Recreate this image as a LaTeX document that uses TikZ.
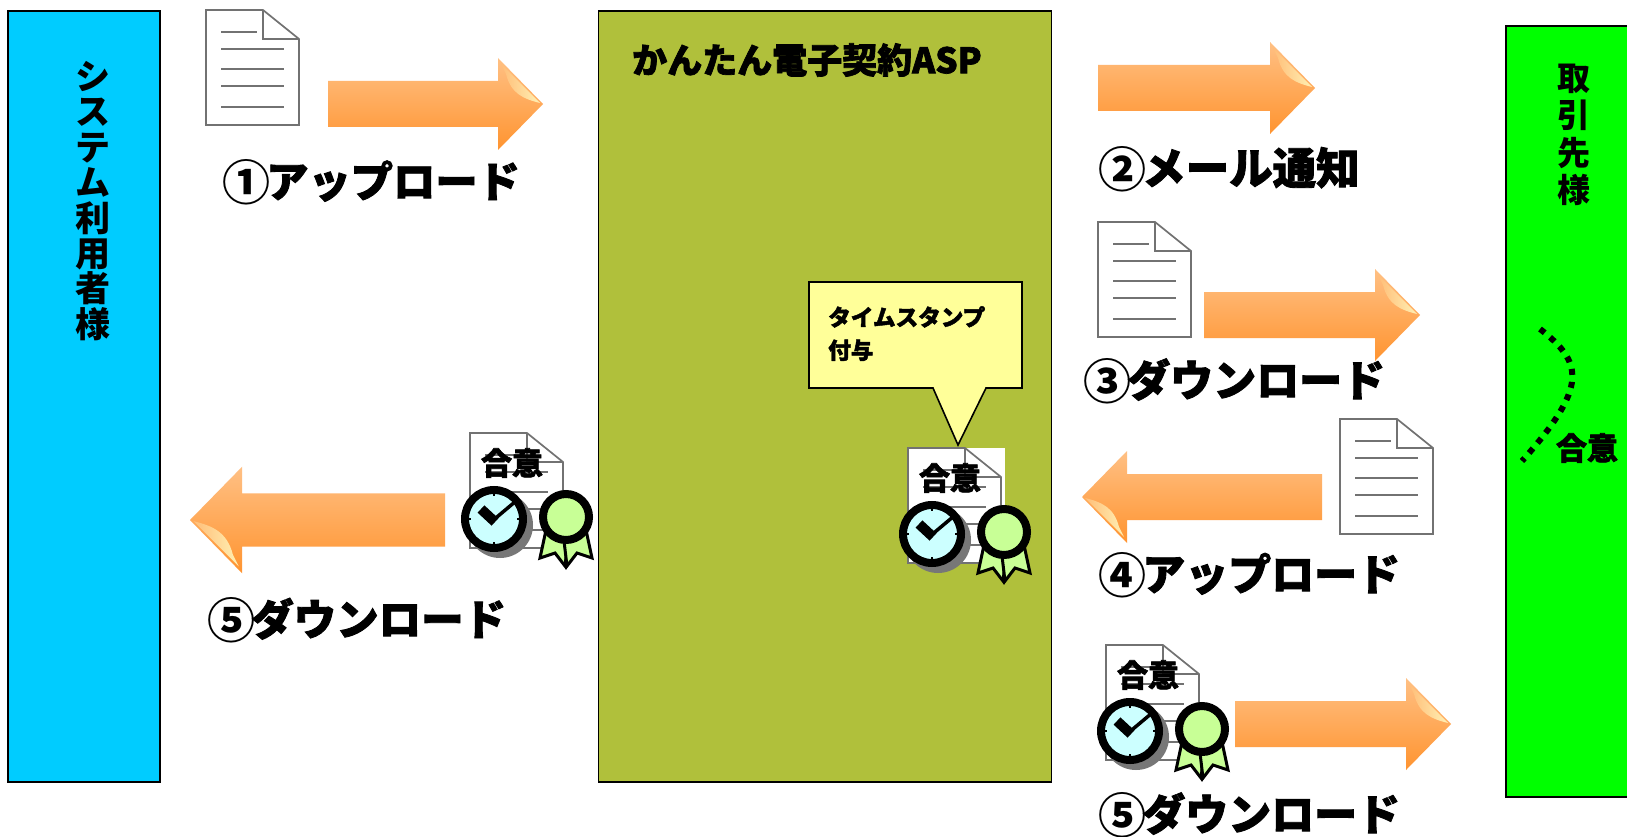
\documentclass[tikz,border=0pt]{standalone}
\usepackage{fontspec}
\newfontfamily\cjk{Noto Sans CJK JP}[BoldFeatures={FakeBold=2}]
\newfontfamily\cjkplain{Noto Sans CJK JP}
\usetikzlibrary{calc}
\definecolor{sysblue}{HTML}{00CCFF}
\definecolor{aspolive}{HTML}{B0C03B}
\definecolor{partnergreen}{HTML}{00FF00}
\definecolor{calloutyellow}{HTML}{FFFF99}
\definecolor{docgray}{HTML}{727272}
\definecolor{clockface}{HTML}{CCFFFF}
\definecolor{ribbongreen}{HTML}{C8FF96}
\definecolor{shadowgray}{HTML}{777777}
\definecolor{arrowtop}{HTML}{FFC084}
\definecolor{arrowbottom}{HTML}{FF9430}
\definecolor{foldlow}{HTML}{FFBE78}
\definecolor{foldhigh}{HTML}{FFF0B4}
\newcommand{\blockarrow}[5]{% tail x, centre y, length, scale, direction
  \begin{scope}[shift={(#1,#2)},xscale=#5]
    \shade[top color=arrowtop,bottom color=arrowbottom]
      (0,-23*#4) -- ({#3-45*#4},-23*#4) -- ({#3-45*#4},-46*#4) -- (#3,0)
      -- ({#3-45*#4},46*#4) -- ({#3-45*#4},23*#4) -- (0,23*#4) -- cycle;
    \begin{scope}[shift={({#3-45*#4},0)},xscale=#4,yscale=#5*#4]
      \shade[left color=foldlow,right color=foldhigh]
        (3,-40) -- (42,-1) .. controls (26,-5) and (13,-10) .. (8,-30) -- cycle;
    \end{scope}
  \end{scope}}
\newcommand{\numlabel}[3]{{\fontsize{#2}{44}\selectfont\raisebox{-3pt}{\cjkplain\bfseries\fontsize{48}{48}\selectfont #1}\kern-4pt #3}}
\tikzset{
  x=1pt,y=-1pt,
  panel/.style={draw=black,line width=1.6pt,rectangle,inner sep=0pt,anchor=north west},
  biglabel/.style={font=\cjk\bfseries,inner sep=0pt,text=black,anchor=west},
  agreelabel/.style={font=\cjk\bfseries\fontsize{31}{33}\selectfont,inner sep=0pt,text=black},
  vertlabel/.style={font=\cjkplain\bfseries,inner sep=0pt,align=center,text=black},
  docline/.style={draw=docgray,line width=1.7pt},
  docicon/.pic={
    \fill[white] (0,0) -- (57,0) -- (93,29) -- (93,115) -- (0,115) -- cycle;
    \draw[docline] (0,0) -- (57,0) -- (93,29) -- (93,115) -- (0,115) -- cycle;
    \draw[docline] (57,0) -- (57,29) -- (93,29);
    \draw[docline] (15,22) -- (51,22);
    \draw[docline] (15,39) -- (78,39);
    \draw[docline] (15,59) -- (78,59);
    \draw[docline] (15,76) -- (78,76);
    \draw[docline] (15,97) -- (78,97);
  },
  sealicons/.pic={
    % clock
    \fill[shadowgray] (30,92) circle[radius=33];
    \fill[clockface,draw=black,line width=8pt] (24,86) circle[radius=29];
    \draw[black,line width=1.5pt] (24,61) -- (24,63) (24,109) -- (24,111) (-1,86) -- (1,86) (47,86) -- (49,86);
    \draw[black,line width=10pt] (11,76) -- (25,89);
    \draw[black,line width=3.5pt,line cap=round] (21,89) -- (46,68);
    % rosette
    \draw[fill=ribbongreen,draw=black,line width=3pt,line join=miter] (76,97) -- (70,125) -- (85,120) -- (95,133) -- (98,108) -- cycle;
    \draw[fill=ribbongreen,draw=black,line width=3pt,line join=miter] (116,97) -- (122,125) -- (107,120) -- (97,133) -- (94,108) -- cycle;
    \fill[ribbongreen,draw=black,line width=8pt] (96,84) circle[radius=23];
  }
}
\begin{document}
\begin{tikzpicture}
\useasboundingbox (0,0) rectangle (1627,837);
\fill[white] (0,0) rectangle (1627,837);

% panels
\node[panel,fill=sysblue,minimum width=152pt,minimum height=771pt] (sys) at (7,10) {};
\node[panel,fill=aspolive,minimum width=453pt,minimum height=771pt] (asp) at (597.5,10) {};
\node[panel,fill=partnergreen,minimum width=140pt,minimum height=771pt] (partner) at (1505,25) {};

\node[vertlabel,font=\cjkplain\bfseries\fontsize{35}{35.4}\selectfont] (systext) at (93,201) {シ\\ス\\テ\\ム\\利\\用\\者\\様};
\node[vertlabel,font=\cjkplain\bfseries\fontsize{33}{37.5}\selectfont] (partnertext) at (1574,135) {取\\引\\先\\様};
\node[font=\cjk\bfseries\fontsize{35}{37}\selectfont,inner sep=0pt,anchor=west] (asptitle) at (632,60) {かんたん電子契約ASP};

% arrows
\blockarrow{328}{104}{215}{1}{1}
\blockarrow{1098}{88}{217}{1}{1}
\blockarrow{1204}{315}{216}{1}{1}
\blockarrow{1322}{497}{240}{1}{-1}
\blockarrow{445}{520}{255}{1.16}{-1}
\blockarrow{1235}{724}{216}{1}{1}

% plain documents
\pic at (206,10) {docicon};
\pic at (1098,222) {docicon};
\pic at (1340,419) {docicon};

% callout
\draw[fill=calloutyellow,draw=black,line width=1.6pt]
  (809,282) -- (1022,282) -- (1022,388) -- (986,388) -- (958,445) -- (933,388) -- (809,388) -- cycle;
\node[font=\cjk\bfseries\fontsize{22.6}{33}\selectfont,inner sep=0pt,align=left,anchor=north west] (stamptext) at (828,306) {タイムスタンプ\\付与};

% stamped documents
\fill[white] (908,448) rectangle (1005,563);
\pic at (908,448) {docicon};
\pic at (908,448) {sealicons};
\node[agreelabel] (agree1) at (950,478) {合意};
\pic at (470,433) {docicon};
\pic at (470,433) {sealicons};
\node[agreelabel] (agree2) at (512,463) {合意};
\pic at (1106,645) {docicon};
\pic at (1106,645) {sealicons};
\node[agreelabel] (agree3) at (1148,675) {合意};

% labels
\node[biglabel] (lab1) at (222,182) {\numlabel{①}{42.3}{アップロード}};
\node[biglabel] (lab2) at (1098,169) {\numlabel{②}{43.5}{メール通知}};
\node[biglabel] (lab3) at (1083,381) {\numlabel{③}{43}{ダウンロード}};
\node[biglabel] (lab4) at (1098,575) {\numlabel{④}{43}{アップロード}};
\node[biglabel] (lab5l) at (207,620) {\numlabel{⑤}{42.5}{ダウンロード}};
\node[biglabel] (lab5r) at (1098,815) {\numlabel{⑤}{43}{ダウンロード}};

% partner agreement
\coordinate (dotstart) at (1540,329);
\coordinate (dotend) at (1522,461);
\draw[black,line width=6pt,dash pattern=on 6pt off 7pt]
  (dotstart) .. controls (1582,362) and (1590,385) .. (dotend);
\node[agreelabel] (agree4) at (1587,448) {合意};
\end{tikzpicture}
\end{document}
